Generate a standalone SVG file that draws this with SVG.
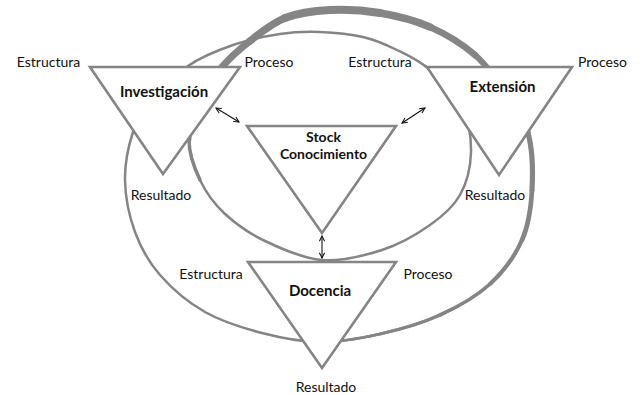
<svg xmlns="http://www.w3.org/2000/svg" width="642" height="395" viewBox="0 0 642 395">
<style>
.crv{fill:none;stroke:#858585;stroke-linecap:round;stroke-linejoin:round}
.tri{fill:#ffffff;stroke:#858585;stroke-width:2.6;stroke-linejoin:miter}
.lbl{font-family:Lato,"Open Sans","Liberation Sans",sans-serif;font-size:14px;fill:#111;text-anchor:middle}
.ttl{font-family:Lato,"Open Sans","Liberation Sans",sans-serif;font-size:15px;font-weight:bold;fill:#111;text-anchor:middle}
.stk{font-size:14px}
.arr{stroke:#111;stroke-width:1.1;fill:none;marker-start:url(#ah);marker-end:url(#ah)}
</style>
<defs>
<marker id="ah" viewBox="0 0 8 8" refX="7" refY="4" markerWidth="7" markerHeight="7" markerUnits="userSpaceOnUse" orient="auto-start-reverse">
<path d="M1,1 L7,4 L1,7" fill="none" stroke="#111" stroke-width="1.2"/>
</marker>
</defs>
<g id="loop">
<path class="crv" stroke-width="2.5" d="M150,103 C140.83,114 137.17,119.17 133,132 C128.83,144.83 124.67,163.33 125,180 C125.33,196.67 129.17,216.17 135,232 C140.83,247.83 148.33,261.67 160,275 C171.67,288.33 188,302.33 205,312 C222,321.67 242.83,328 262,333 C281.17,338 300.33,341.83 320,342 C339.67,342.17 360,338.5 380,334 C400,329.5 421.67,323.33 440,315 C458.33,306.67 476.33,296.5 490,284 C503.67,271.5 515,255.67 522,240 C529,224.33 531,207.83 532,190 C533,172.17 532.5,149.33 528,133 C523.5,116.67 513.83,105 505,92 C496.17,79 487.5,65.83 475,55 C462.5,44.17 445.83,34 430,27 C414.17,20 396.67,15.83 380,13 C363.33,10.17 345.83,9.17 330,10 C314.17,10.83 298.33,12.83 285,18 C271.67,23.17 260.5,32.83 250,41 C239.5,49.17 230.33,57.17 222,67 C213.67,76.83 205.5,87.83 200,100 C194.5,112.17 189,126.67 189,140 C189,153.33 194.17,167.83 200,180 C205.83,192.17 213.17,202.83 224,213 C234.83,223.17 248.67,233.17 265,241 C281.33,248.83 302.5,258.5 322,260 C341.5,261.5 364,255.83 382,250 C400,244.17 417,234.17 430,225 C443,215.83 453.17,207.17 460,195 C466.83,182.83 470.67,166.5 471,152 C471.33,137.5 468.83,121.67 462,108 C455.17,94.33 440.83,79.67 430,70 C419.17,60.33 408.17,55.5 397,50 C385.83,44.5 375.83,40 363,37 C350.17,34 333.83,32.5 320,32 C306.17,31.5 294.5,31.83 280,34 C265.5,36.17 248.33,39.67 233,45 C217.67,50.33 201.83,56.33 188,66 C174.17,75.67 159.17,92 150,103 Z"/>
<path class="crv" stroke-width="2.8" d="M320,342 C339.67,342.17 360,338.5 380,334"/>
<path class="crv" stroke-width="3.2" d="M380,334 C400,329.5 421.67,323.33 440,315"/>
<path class="crv" stroke-width="3.7" d="M440,315 C458.33,306.67 476.33,296.5 490,284"/>
<path class="crv" stroke-width="4.2" d="M490,284 C503.67,271.5 515,255.67 522,240"/>
<path class="crv" stroke-width="4.7" d="M522,240 C529,224.33 531,207.83 532,190"/>
<path class="crv" stroke-width="5.2" d="M532,190 C533,172.17 532.5,149.33 528,133"/>
<path class="crv" stroke-width="5.6" d="M528,133 C523.5,116.67 513.83,105 505,92"/>
<path class="crv" stroke-width="6.2" d="M505,92 C496.17,79 487.5,65.83 475,55"/>
<path class="crv" stroke-width="6.8" d="M475,55 C462.5,44.17 445.83,34 430,27"/>
<path class="crv" stroke-width="7.5" d="M430,27 C414.17,20 396.67,15.83 380,13"/>
<path class="crv" stroke-width="8" d="M380,13 C363.33,10.17 345.83,9.17 330,10"/>
<path class="crv" stroke-width="8" d="M330,10 C314.17,10.83 298.33,12.83 285,18"/>
<path class="crv" stroke-width="7.5" d="M285,18 C271.67,23.17 260.5,32.83 250,41"/>
<path class="crv" stroke-width="7" d="M250,41 C239.5,49.17 230.33,57.17 222,67"/>
<path class="crv" stroke-width="6" d="M222,67 C213.67,76.83 205.5,87.83 200,100"/>
<path class="crv" stroke-width="4.8" d="M200,100 C194.5,112.17 189,126.67 189,140"/>
<path class="crv" stroke-width="3.5" d="M189,140 C189,153.33 194.17,167.83 200,180"/>
</g>
<g id="investigacion">
<polygon class="tri" points="90,67 240,67 163,174"/>
<text class="ttl" x="164" y="97">Investigación</text>
<text class="lbl" x="48.5" y="67">Estructura</text>
<text class="lbl" x="269" y="67">Proceso</text>
<text class="lbl" x="161" y="200">Resultado</text>
</g>
<g id="extension">
<polygon class="tri" points="427,67 572,67 499,175"/>
<text class="ttl" x="502.5" y="92">Extensión</text>
<text class="lbl" x="380" y="67">Estructura</text>
<text class="lbl" x="602.5" y="67">Proceso</text>
<text class="lbl" x="495" y="200">Resultado</text>
</g>
<g id="stock">
<polygon class="tri" points="247,126 396,126 322,233"/>
<text class="ttl stk" x="323.5" y="142">Stock</text>
<text class="ttl stk" x="323.5" y="159">Conocimiento</text>
</g>
<g id="docencia">
<polygon class="tri" points="248,262 396,262 322,368"/>
<text class="ttl" x="320" y="296">Docencia</text>
<text class="lbl" x="211" y="279">Estructura</text>
<text class="lbl" x="428" y="278.5">Proceso</text>
<text class="lbl" x="326" y="391.5">Resultado</text>
</g>
<g id="connectors">
<line class="arr" x1="216" y1="108" x2="239" y2="122"/>
<line class="arr" x1="402" y1="123" x2="425" y2="108"/>
<line class="arr" x1="322" y1="236" x2="322" y2="258"/>
</g>
</svg>
